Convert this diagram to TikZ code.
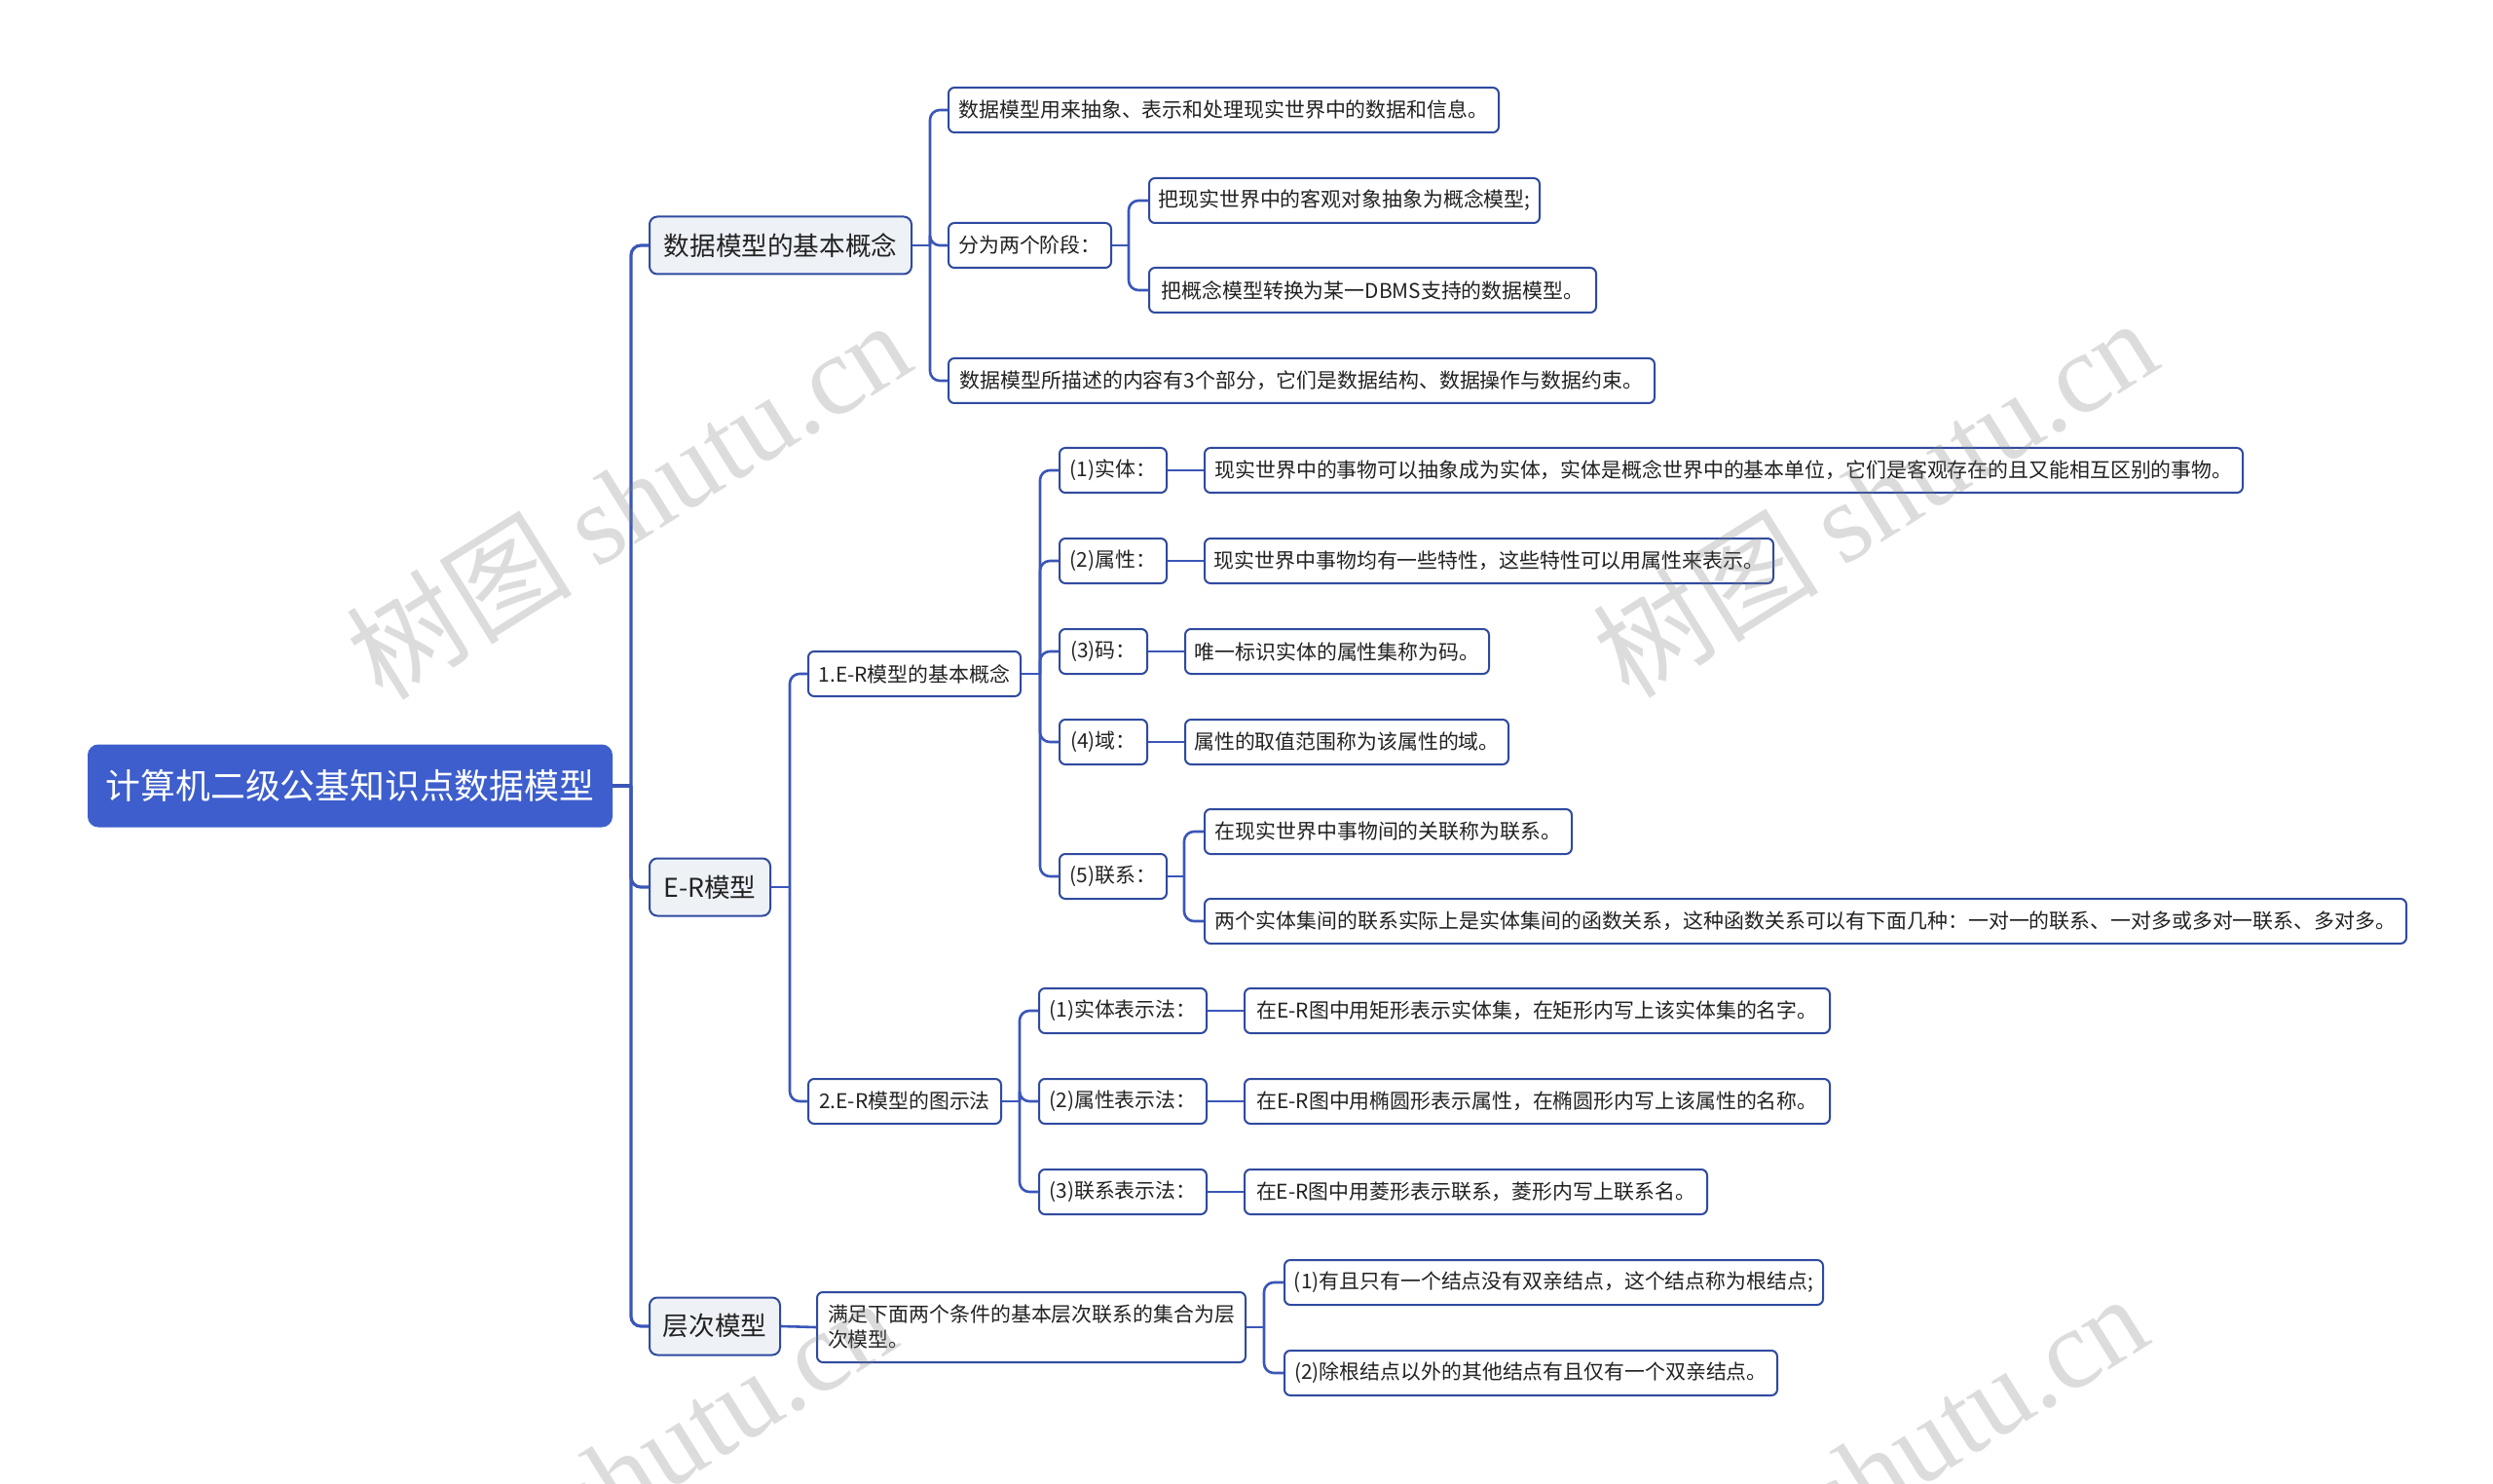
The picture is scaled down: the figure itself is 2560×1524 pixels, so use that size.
\documentclass[tikz,border=0pt]{standalone}
\usepackage{fontspec}
\setmainfont{Noto Sans CJK SC}
\newfontfamily\wmlatin{Liberation Serif}
\newfontfamily\wmcjk{Noto Sans CJK SC}
\usetikzlibrary{calc}
\definecolor{linec}{HTML}{3A56B8}
\definecolor{nodeborder}{HTML}{2F4A9F}
\definecolor{lvfill}{HTML}{EEF2F7}
\definecolor{rootfill}{HTML}{3D5ECC}
\definecolor{textc}{HTML}{222222}
\tikzset{
  base/.style={draw=nodeborder, line width=1pt, rounded corners=3pt, anchor=west,
    text=textc, inner xsep=4pt, inner ysep=2pt, fill=white,
    font=\fontsize{10.45pt}{13pt}\selectfont, minimum height=23pt},
  lvone/.style={base, fill=lvfill, rounded corners=4pt, minimum height=29.5pt,
    font=\fontsize{13.3pt}{16pt}\selectfont},
  rootnode/.style={base, fill=rootfill, draw=rootfill, text=white, minimum height=41.5pt,
    rounded corners=5pt, font=\fontsize{17.9pt}{21pt}\selectfont},
  conn/.style={draw=linec, line width=1.3pt, rounded corners=5pt},
  trunk/.style={conn, line width=1.6pt},
  wm/.style={text=gray, opacity=0.28, font=\fontsize{58pt}{64pt}\selectfont, rotate=32}
}
\begin{document}
\begin{tikzpicture}[x=0.5pt,y=-0.5pt]
\useasboundingbox (0,0) rectangle (2560,1524);
% root and level one
\node[rootnode, minimum width=268.5pt] (root) at (90,807) {计算机二级公基知识点数据模型};
\node[lvone, minimum width=134.5pt] (A) at (666,252) {数据模型的基本概念};
\node[lvone, minimum width=62pt] (B) at (666,911) {E-R模型};
\node[lvone, minimum width=67pt] (C) at (666,1362) {层次模型};
\coordinate (t0) at (648,807);
\draw[trunk] (root.east) -- (root.east -| t0);
\foreach \n in {A,B,C} \draw[trunk] (root.east -| t0) |- (\n.west);

% A branch
\node[base, minimum width=282.5pt] (A1) at (973,113) {数据模型用来抽象、表示和处理现实世界中的数据和信息。};
\node[base, minimum width=83.5pt] (A2) at (973,252) {分为两个阶段：};
\node[base, minimum width=362.5pt] (A3) at (973,391) {数据模型所描述的内容有3个部分，它们是数据结构、数据操作与数据约束。};
\coordinate (bA) at (955,0);
\draw[conn] (A.east) -- (A.east -| bA);
\foreach \n in {A1,A2,A3} \draw[conn] (A.east -| bA) |- (\n.west);
\node[base, minimum width=200.5pt] (A21) at (1179,206) {把现实世界中的客观对象抽象为概念模型;};
\node[base, minimum width=229.5pt] (A22) at (1179,298) {把概念模型转换为某一DBMS支持的数据模型。};
\coordinate (bA2) at (1159,0);
\draw[conn] (A2.east) -- (A2.east -| bA2);
\foreach \n in {A21,A22} \draw[conn] (A2.east -| bA2) |- (\n.west);

% B branch
\node[base, minimum width=109pt] (B1) at (829,692) {1.E-R模型的基本概念};
\node[base, minimum width=99pt] (B2) at (829,1131) {2.E-R模型的图示法};
\coordinate (bB) at (811,0);
\draw[conn] (B.east) -- (B.east -| bB);
\foreach \n in {B1,B2} \draw[conn] (B.east -| bB) |- (\n.west);

\node[base, minimum width=55pt] (E1) at (1087,483) {(1)实体：};
\node[base, minimum width=55pt] (E2) at (1087,576) {(2)属性：};
\node[base, minimum width=45pt] (E3) at (1087,669) {(3)码：};
\node[base, minimum width=45pt] (E4) at (1087,762) {(4)域：};
\node[base, minimum width=55pt] (E5) at (1087,900) {(5)联系：};
\coordinate (bB1) at (1068,0);
\draw[conn] (B1.east) -- (B1.east -| bB1);
\foreach \n in {E1,E2,E3,E4,E5} \draw[conn] (B1.east -| bB1) |- (\n.west);

\node[base, minimum width=533pt] (T1) at (1236,483) {现实世界中的事物可以抽象成为实体，实体是概念世界中的基本单位，它们是客观存在的且又能相互区别的事物。};
\node[base, minimum width=292pt] (T2) at (1236,576) {现实世界中事物均有一些特性，这些特性可以用属性来表示。};
\node[base, minimum width=156pt] (T3) at (1216,669) {唯一标识实体的属性集称为码。};
\node[base, minimum width=166pt] (T4) at (1216,762) {属性的取值范围称为该属性的域。};
\draw[conn] (E1.east) -- (T1.west);
\draw[conn] (E2.east) -- (T2.west);
\draw[conn] (E3.east) -- (T3.west);
\draw[conn] (E4.east) -- (T4.west);
\node[base, minimum width=188.5pt] (T51) at (1236,854) {在现实世界中事物间的关联称为联系。};
\node[base, minimum width=617pt] (T52) at (1236,946) {两个实体集间的联系实际上是实体集间的函数关系，这种函数关系可以有下面几种：一对一的联系、一对多或多对一联系、多对多。};
\coordinate (bE5) at (1216,0);
\draw[conn] (E5.east) -- (E5.east -| bE5);
\foreach \n in {T51,T52} \draw[conn] (E5.east -| bE5) |- (\n.west);

\node[base, minimum width=86pt] (U1) at (1066,1038) {(1)实体表示法：};
\node[base, minimum width=86pt] (U2) at (1066,1131) {(2)属性表示法：};
\node[base, minimum width=86pt] (U3) at (1066,1224) {(3)联系表示法：};
\coordinate (bB2) at (1047,0);
\draw[conn] (B2.east) -- (B2.east -| bB2);
\foreach \n in {U1,U2,U3} \draw[conn] (B2.east -| bB2) |- (\n.west);
\node[base, minimum width=300.5pt] (V1) at (1277,1038) {在E-R图中用矩形表示实体集，在矩形内写上该实体集的名字。};
\node[base, minimum width=300.5pt] (V2) at (1277,1131) {在E-R图中用椭圆形表示属性，在椭圆形内写上该属性的名称。};
\node[base, minimum width=237.5pt] (V3) at (1277,1224) {在E-R图中用菱形表示联系，菱形内写上联系名。};
\draw[conn] (U1.east) -- (V1.west);
\draw[conn] (U2.east) -- (V2.west);
\draw[conn] (U3.east) -- (V3.west);

% C branch
\node[base, minimum width=220pt, minimum height=36pt, align=left] (C1) at (838,1363) {满足下面两个条件的基本层次联系的集合为层\\次模型。};
\draw[conn] (C.east) -- (C1.west);
\node[base, minimum width=276.5pt] (C11) at (1318,1317) {(1)有且只有一个结点没有双亲结点，这个结点称为根结点;};
\node[base, minimum width=253pt] (C12) at (1318,1410) {(2)除根结点以外的其他结点有且仅有一个双亲结点。};
\coordinate (bC1) at (1298,0);
\draw[conn] (C1.east) -- (C1.east -| bC1);
\foreach \n in {C11,C12} \draw[conn] (C1.east -| bC1) |- (\n.west);

% watermarks
\begin{scope}
\clip (0,0) rectangle (2560,1524);
\node[wm] (w1) at (645,512) {{\wmcjk 树图} {\wmlatin shutu.cn}};
\node[wm] (w2) at (1925,510) {{\wmcjk 树图} {\wmlatin shutu.cn}};
\node[wm] (w3) at (630,1515) {{\wmcjk 树图} {\wmlatin shutu.cn}};
\node[wm] (w4) at (1915,1512) {{\wmcjk 树图} {\wmlatin shutu.cn}};
\end{scope}
\end{tikzpicture}
\end{document}
